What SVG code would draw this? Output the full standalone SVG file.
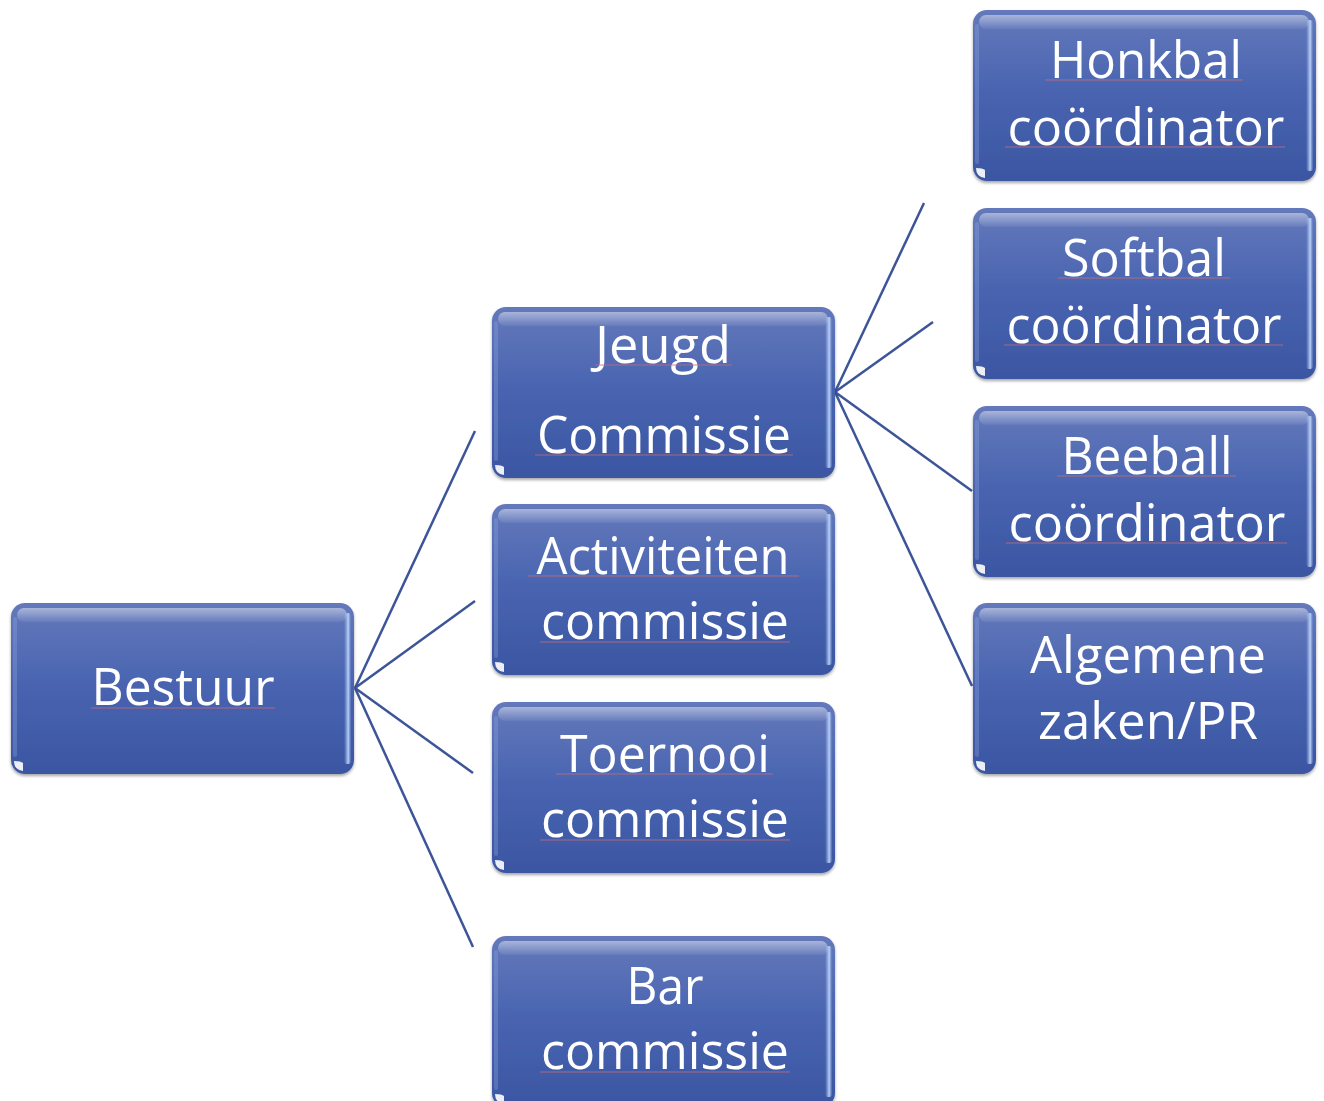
<svg xmlns="http://www.w3.org/2000/svg" width="1324" height="1101" viewBox="0 0 1324 1101">
<defs>
<linearGradient id="gBody" x1="0" y1="0" x2="0" y2="1">
<stop offset="0" stop-color="#6479bb"/>
<stop offset="0.5" stop-color="#4863b0"/>
<stop offset="1" stop-color="#3b56a2"/>
</linearGradient>
<linearGradient id="gTop" x1="0" y1="0" x2="0" y2="1">
<stop offset="0" stop-color="#ffffff" stop-opacity="0.45"/>
<stop offset="1" stop-color="#ffffff" stop-opacity="0.05"/>
</linearGradient>
<linearGradient id="gRight" x1="0" y1="0" x2="1" y2="0">
<stop offset="0" stop-color="#9fbff0" stop-opacity="0"/>
<stop offset="0.6" stop-color="#c6dcff" stop-opacity="0.9"/>
<stop offset="1" stop-color="#5b78c0" stop-opacity="0.6"/>
</linearGradient>
<filter id="sh" x="-5%" y="-5%" width="110%" height="115%">
<feDropShadow dx="0" dy="2" stdDeviation="1.5" flood-color="#000" flood-opacity="0.35"/>
</filter>
<g id="box">
<rect x="0" y="0" width="343" height="171" rx="14" fill="url(#gBody)" filter="url(#sh)"/>
<rect x="6" y="5" width="330" height="14" rx="7" fill="url(#gTop)"/>
<rect x="333" y="10" width="7" height="151" rx="3" fill="url(#gRight)"/>
<rect x="2" y="14" width="4" height="140" rx="2" fill="#8aa2dc" opacity="0.35"/>
<path d="M3 158 Q3 167 12 168 L12 160 Q10 158 3 158 Z" fill="#ffffff" opacity="0.9"/>
</g>
</defs>
<style>
.t{font-family:"Open Sans","Noto Sans",sans-serif;font-size:52px;fill:#ffffff;text-anchor:middle}
.c{stroke:#3d5598;stroke-width:2.5;fill:none}
.u{stroke:#c76b78;stroke-width:1.2;opacity:0.8}
</style>
<g id="connectors">
<line class="c" x1="355" y1="688" x2="475" y2="431"/>
<line class="c" x1="355" y1="688" x2="475" y2="601"/>
<line class="c" x1="355" y1="688" x2="473" y2="773"/>
<line class="c" x1="355" y1="688" x2="473" y2="947"/>
<line class="c" x1="835" y1="392" x2="924" y2="203"/>
<line class="c" x1="835" y1="392" x2="933" y2="322"/>
<line class="c" x1="835" y1="392" x2="972" y2="491"/>
<line class="c" x1="835" y1="392" x2="972" y2="686"/>
</g>
<g id="bestuur">
<use href="#box" x="11" y="603"/>
<text class="t" x="183" y="705" textLength="183" lengthAdjust="spacingAndGlyphs">Bestuur</text>
<line class="u" x1="91" y1="708" x2="275" y2="708"/>
</g>
<g id="jeugd">
<use href="#box" x="492" y="307"/>
<text class="t" x="663" y="363" textLength="136" lengthAdjust="spacingAndGlyphs">Jeugd</text>
<text class="t" x="664" y="453" textLength="254" lengthAdjust="spacingAndGlyphs">Commissie</text>
<line class="u" x1="595" y1="365" x2="732" y2="365"/>
<line class="u" x1="535" y1="455" x2="793" y2="455"/>
</g>
<g id="activiteiten">
<use href="#box" x="492" y="504"/>
<text class="t" x="663" y="574" textLength="253" lengthAdjust="spacingAndGlyphs">Activiteiten</text>
<text class="t" x="665" y="639" textLength="248" lengthAdjust="spacingAndGlyphs">commissie</text>
<line class="u" x1="528" y1="576" x2="799" y2="576"/>
<line class="u" x1="540" y1="642" x2="790" y2="642"/>
</g>
<g id="toernooi">
<use href="#box" x="492" y="702"/>
<text class="t" x="665" y="772" textLength="210" lengthAdjust="spacingAndGlyphs">Toernooi</text>
<text class="t" x="665" y="837" textLength="248" lengthAdjust="spacingAndGlyphs">commissie</text>
<line class="u" x1="556" y1="774" x2="773" y2="774"/>
<line class="u" x1="540" y1="840" x2="790" y2="840"/>
</g>
<g id="bar">
<use href="#box" x="492" y="936"/>
<text class="t" x="665" y="1004" textLength="77" lengthAdjust="spacingAndGlyphs">Bar</text>
<text class="t" x="665" y="1069" textLength="248" lengthAdjust="spacingAndGlyphs">commissie</text>
<line class="u" x1="540" y1="1072" x2="790" y2="1072"/>
</g>
<g id="honkbal">
<use href="#box" x="973" y="10"/>
<text class="t" x="1146" y="78" textLength="192" lengthAdjust="spacingAndGlyphs">Honkbal</text>
<text class="t" x="1146" y="145" textLength="277" lengthAdjust="spacingAndGlyphs">coördinator</text>
<line class="u" x1="1045" y1="80" x2="1243" y2="80"/>
<line class="u" x1="1005" y1="147" x2="1285" y2="147"/>
</g>
<g id="softbal">
<use href="#box" x="973" y="208"/>
<text class="t" x="1144" y="276" textLength="164" lengthAdjust="spacingAndGlyphs">Softbal</text>
<text class="t" x="1144" y="343" textLength="275" lengthAdjust="spacingAndGlyphs">coördinator</text>
<line class="u" x1="1058" y1="278" x2="1230" y2="278"/>
<line class="u" x1="1004" y1="345" x2="1283" y2="345"/>
</g>
<g id="beeball">
<use href="#box" x="973" y="406"/>
<text class="t" x="1147" y="474" textLength="171" lengthAdjust="spacingAndGlyphs">Beeball</text>
<text class="t" x="1147" y="541" textLength="277" lengthAdjust="spacingAndGlyphs">coördinator</text>
<line class="u" x1="1057" y1="476" x2="1236" y2="476"/>
<line class="u" x1="1006" y1="543" x2="1287" y2="543"/>
</g>
<g id="algemene">
<use href="#box" x="973" y="603"/>
<text class="t" x="1148" y="673" textLength="236" lengthAdjust="spacingAndGlyphs">Algemene</text>
<text class="t" x="1148" y="739" textLength="220" lengthAdjust="spacingAndGlyphs">zaken/PR</text>
</g>
</svg>
